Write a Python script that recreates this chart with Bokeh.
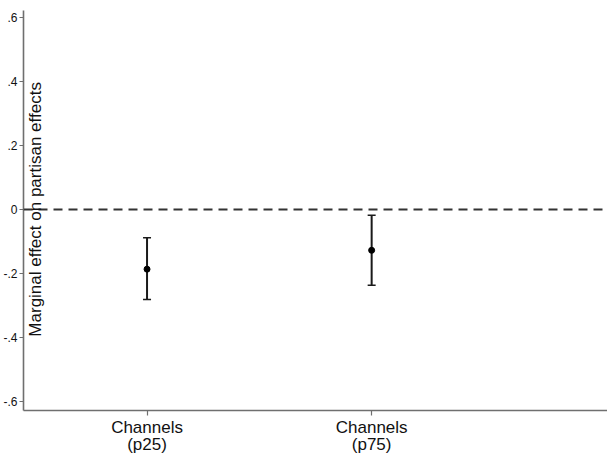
from bokeh.plotting import figure
from bokeh.models import Range1d, FixedTicker, Whisker, TeeHead, Span, Label, ColumnDataSource
from bokeh.embed import file_html
from bokeh.resources import INLINE

# ---- data ----
categories = ["Channels\n(p25)", "Channels\n(p75)"]
estimates = [-0.187, -0.128]
lower = [-0.282, -0.237]
upper = [-0.089, -0.018]
y_ticks = [-0.6, -0.4, -0.2, 0.0, 0.2, 0.4, 0.6]
y_tick_labels = ["-.6", "-.4", "-.2", "0", ".2", ".4", ".6"]
y_title = "Marginal effect on partisan effects"

xpos = list(range(1, len(categories) + 1))
src = ColumnDataSource(dict(x=xpos, est=estimates, lo=lower, hi=upper))

FONT = "Liberation Sans"
AXIS_COL = "#6f6f6f"

p = figure(width=607, height=456, output_backend="svg", toolbar_location=None,
           x_range=Range1d(0.45, 3.05), y_range=Range1d(-0.629, 0.622),
           min_border_left=20, min_border_right=0, min_border_top=10, min_border_bottom=0)
p.outline_line_color = None
p.xgrid.visible = False
p.ygrid.visible = False
p.background_fill_color = "white"
p.border_fill_color = "white"

# zero reference line
p.add_layout(Span(location=0, dimension="width", line_color="#333333",
                  line_width=2, line_dash="9 6"))

# confidence intervals
w = Whisker(source=src, base="x", lower="lo", upper="hi", line_color="#1a1a1a", line_width=2,
            upper_head=TeeHead(size=8, line_color="#1a1a1a", line_width=1.5),
            lower_head=TeeHead(size=8, line_color="#1a1a1a", line_width=1.5))
p.add_layout(w)
p.scatter("x", "est", source=src, size=6, color="#000000")

# x axis
p.xaxis.ticker = FixedTicker(ticks=xpos)
p.xaxis.major_label_overrides = {x: c for x, c in zip(xpos, categories)}
p.xaxis.minor_tick_line_color = None
p.xaxis.major_tick_in = 0
p.xaxis.major_tick_out = 5
p.xaxis.axis_line_color = AXIS_COL
p.xaxis.axis_line_width = 1.6
p.xaxis.major_tick_line_color = AXIS_COL
p.xaxis.major_tick_line_width = 1.2
p.xaxis.major_label_text_font = FONT
p.xaxis.major_label_text_font_size = "17px"
p.xaxis.major_label_text_color = "#111111"
p.xaxis.major_label_text_line_height = 0.9
p.xaxis.major_label_standoff = 2

# y axis
p.yaxis.ticker = FixedTicker(ticks=y_ticks)
p.yaxis.major_label_overrides = {t: l for t, l in zip(y_ticks, y_tick_labels)}
p.yaxis.minor_tick_line_color = None
p.yaxis.major_tick_in = 0
p.yaxis.major_tick_out = 4
p.yaxis.axis_line_color = AXIS_COL
p.yaxis.axis_line_width = 1.6
p.yaxis.major_tick_line_color = AXIS_COL
p.yaxis.major_tick_line_width = 1.2
p.yaxis.major_label_text_font = FONT
p.yaxis.major_label_text_font_size = "12px"
p.yaxis.major_label_text_color = "#111111"
p.yaxis.major_label_standoff = 2

# y title placed just right of the axis line
p.add_layout(Label(x=0.505, y=0.0, text=y_title, angle=1.5708, angle_units="rad",
                   text_align="center", text_baseline="middle",
                   text_font=FONT, text_font_size="17px", text_color="#111111"))

open("out.html", "w").write(file_html(p, INLINE))
